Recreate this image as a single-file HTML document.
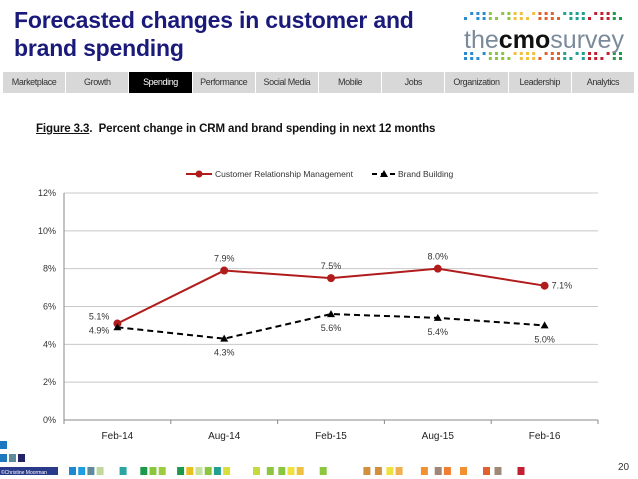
<!DOCTYPE html>
<html><head><meta charset="utf-8"><style>
body{margin:0;width:638px;height:479px;background:#fff;overflow:hidden;font-family:"Liberation Sans",sans-serif;position:relative}
.title{position:absolute;left:14px;top:6px;font-size:23px;font-weight:bold;color:#1a1a7a;line-height:28px;letter-spacing:-0.2px}
.nav{position:absolute;left:3px;top:72px;width:632px;height:21px;display:flex}
.nav div{flex:1;background:#d8d8d8;border-right:1px solid #fff;font-size:9px;color:#333;text-align:center;line-height:21px;letter-spacing:-0.4px}
.nav div.on{background:#000;color:#fff}
.fig{position:absolute;left:36px;top:123px;font-size:11.5px;font-weight:bold;color:#111;letter-spacing:-0.1px}
.logo{position:absolute;left:462px;top:6px;width:168px;height:62px}
</style></head><body>
<div class="title">Forecasted changes in customer and<br>brand spending</div>
<svg class="logo" viewBox="0 0 168 62">
<g id="dots"></g>
<text x="2" y="42" font-size="25" fill="#7a8a9a" font-family="Liberation Sans" textLength="160" lengthAdjust="spacingAndGlyphs">the<tspan font-weight="bold" fill="#111">cmo</tspan>survey</text>
</svg>
<div class="nav">
<div>Marketplace</div>
<div>Growth</div>
<div class="on">Spending</div>
<div>Performance</div>
<div>Social Media</div>
<div>Mobile</div>
<div>Jobs</div>
<div>Organization</div>
<div>Leadership</div>
<div>Analytics</div>
</div>
<div class="fig"><u>Figure 3.3</u>.&nbsp; Percent change in CRM and brand spending in next 12 months</div>
<svg id="chart" style="position:absolute;left:0;top:0" width="638" height="479"></svg>
<div style="position:absolute;left:618px;top:462px;font-size:10px;color:#333">20</div>
<script>
const categories=["Feb-14","Aug-14","Feb-15","Aug-15","Feb-16"];
const crmValues=[5.1,7.9,7.5,8.0,7.1];
const brandValues=[4.9,4.3,5.6,5.4,5.0];
const yTicks=[0,2,4,6,8,10,12];
const ns="http://www.w3.org/2000/svg";
const svg=document.getElementById('chart');
const L=64,R=598,T=193,B=420,yMax=12;
const xs=i=>L+(R-L)/categories.length*(i+0.5);
const ys=v=>B-(B-T)*v/yMax;
function mk(t,a,p){const e=document.createElementNS(ns,t);for(const k in a)e.setAttribute(k,a[k]);(p||svg).appendChild(e);return e;}
yTicks.forEach(v=>{
 const g=mk('line',{x1:L,x2:R,y1:ys(v),y2:ys(v),stroke:v?'#c8c8c8':'#888','stroke-width':1});
 
 
 const t=mk('text',{x:L-8,y:ys(v)+3,'font-size':9,'text-anchor':'end',fill:'#333','font-family':'Liberation Sans'});
 t.textContent=v+'%';
 
 
});
mk('line',{x1:L,x2:L,y1:T,y2:B,stroke:'#888'});
for(let i=0;i<=categories.length;i++){const x=L+(R-L)/categories.length*i;mk('line',{x1:x,x2:x,y1:B,y2:B+4,stroke:'#888'});}
categories.forEach((c,i)=>{
 const t=mk('text',{x:xs(i),y:439,'font-size':10,'text-anchor':'middle',fill:'#222','font-family':'Liberation Sans'});
 t.textContent=c;
 
 
});
const crmPts=crmValues.map((v,i)=>xs(i)+','+ys(v)).join(' ');
const brPts=brandValues.map((v,i)=>xs(i)+','+ys(v)).join(' ');
const bl=mk('polyline',{points:brPts,fill:'none',stroke:'#000','stroke-width':2,'stroke-dasharray':'6,4'});


const cl=mk('polyline',{points:crmPts,fill:'none',stroke:'#b01c1c','stroke-width':2});


function lab(x,y,s,anchor){const t=mk('text',{x:x,y:y,'font-size':9,'text-anchor':anchor,fill:'#333','font-family':'Liberation Sans'});t.textContent=s;}
crmValues.forEach((v,i)=>{
 const c=mk('circle',{cx:xs(i),cy:ys(v),r:4,fill:'#b01c1c'});
 
 
 const s=v.toFixed(1)+'%';
 if(i==0)lab(xs(i)-8,ys(v)-4,s,'end');
 else if(i==crmValues.length-1)lab(xs(i)+7,ys(v)+3,s,'start');
 else lab(xs(i),ys(v)-9,s,'middle');
});
brandValues.forEach((v,i)=>{
 const x=xs(i),y=ys(v);
 const p=mk('polygon',{points:`${x},${y-4} ${x-4},${y+3} ${x+4},${y+3}`,fill:'#000'});
 
 
 const s=v.toFixed(1)+'%';
 if(i==0)lab(x-8,y+6,s,'end');
 else lab(x,y+17,s,'middle');
});
mk('line',{x1:186,x2:212,y1:174,y2:174,stroke:'#b01c1c','stroke-width':2});
mk('circle',{cx:199,cy:174,r:3.5,fill:'#b01c1c'});
const l1=mk('text',{x:215,y:177,'font-size':8.5,fill:'#333','font-family':'Liberation Sans'});l1.textContent='Customer Relationship Management';


mk('line',{x1:372,x2:396,y1:174,y2:174,stroke:'#000','stroke-width':2,'stroke-dasharray':'5,4'});
mk('polygon',{points:'384,170 380,177 388,177',fill:'#000'});
const l2=mk('text',{x:398,y:177,'font-size':8.5,fill:'#333','font-family':'Liberation Sans'});l2.textContent='Brand Building';


const fcols=['#1e88d0','#1e9ee0','#5f8a99','#c0d8a0','#2aa5a0','#1a9a4a','#8cc63f','#9ccc40','#1a9a4a','#e8c020','#c8e0a0','#8cc63f','#20a090','#d8e040','#c8d840','#8cc63f','#8cc63f','#f0e040','#f0c040','#8cc63f','#d09040','#d09040','#f0e040','#f0b050','#f09030','#a08878','#f08030','#f09030','#e06030','#a08878','#c02030'];
const fx=[60,68,76,84,104,122,130,138,154,162,170,178,186,194,220,232,242,250,258,278,316,326,336,344,366,378,386,400,420,430,450];
const fr=document.createElementNS(ns,'g');svg.appendChild(fr);
mk('rect',{x:0,y:467,width:58,height:8,fill:'#2a3a8a'},fr);
fcols.forEach((c,i)=>mk('rect',{x:fx[i]*1.15,y:467,width:7,height:8,fill:c},fr));
mk('rect',{x:0,y:441,width:7,height:8,fill:'#1e78c0'},fr);
mk('rect',{x:0,y:454,width:7,height:8,fill:'#1e78c0'},fr);
mk('rect',{x:9,y:454,width:7,height:8,fill:'#5f8a99'},fr);
mk('rect',{x:18,y:454,width:7,height:8,fill:'#222266'},fr);
const ft=mk('text',{x:1,y:474,'font-size':5,fill:'#fff','font-family':'Liberation Sans'},fr);ft.textContent='©Christine Moorman';
const lg=document.getElementById('dots');
const lc=['#2a8ad0','#8cc63f','#f0c040','#e06030','#20a090','#c02030','#1a9a4a','#f09030'];
for(let r=0;r<4;r++)for(let k=0;k<26;k++){if((k*7+r*3)%5==0)continue;const c=document.createElementNS(ns,'rect');c.setAttribute('x',2+k*6.2);c.setAttribute('y',(r<2?6+r*5:46+(r-2)*5));c.setAttribute('width',3);c.setAttribute('height',3);c.setAttribute('fill',lc[(k>>2)%8]);lg.appendChild(c);}
</script>
</body></html>
